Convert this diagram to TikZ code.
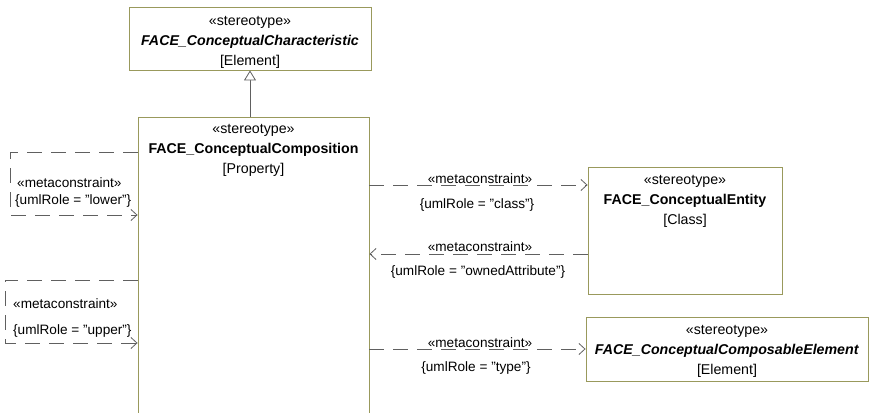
\documentclass[tikz,border=0pt]{standalone}
\usepackage{fontspec}
\setmainfont{Liberation Sans}
\usetikzlibrary{arrows.meta,positioning,calc}
\definecolor{umlolive}{RGB}{153,153,92}
\definecolor{umlgrey}{RGB}{96,96,96}

\begin{document}
\begin{tikzpicture}[x=1pt, y=-1pt,
  umlbox/.style={rectangle, draw=umlolive, fill=white, line width=0.9pt, inner sep=0pt},
  stereo/.style={align=center, inner sep=0pt, anchor=north, font=\fontsize{14.2}{19.8}\selectfont},
  meta/.style={draw=umlgrey, line width=0.8pt, dash pattern=on 15pt off 9pt, -{Straight Barb[length=6pt,width=11pt]}},
  gen/.style={draw=umlgrey, line width=0.8pt, -{Triangle[open, length=10pt, width=12pt, fill=white]}},
  role/.style={inner sep=0pt, font=\fontsize{13.6}{16}\selectfont},
]
  \useasboundingbox (0,0) rectangle (869,412);

  % classes
  \node[umlbox, minimum width=242pt, minimum height=63pt] (charac) at (250,38.5) {};
  \node[stereo] (charactxt) at ([yshift=-10pt]charac.north)
    {«stereotype»\\\textbf{\textit{FACE\_ConceptualCharacteristic}}\\{[Element]}};
  \node[umlbox, minimum width=231pt, minimum height=308pt] (comp) at (253.5,271) {};
  \node[stereo] (comptxt) at ([yshift=-8pt]comp.north)
    {«stereotype»\\\textbf{FACE\_ConceptualComposition}\\{[Property]}};
  \node[umlbox, minimum width=194pt, minimum height=127pt] (entity) at (685,230.5) {};
  \node[stereo] (entitytxt) at ([yshift=-9pt]entity.north)
    {«stereotype»\\\textbf{FACE\_ConceptualEntity}\\{[Class]}};
  \node[umlbox, minimum width=282pt, minimum height=64pt] (compelem) at (727,349) {};
  \node[stereo] (compelemtxt) at ([yshift=-9pt]compelem.north)
    {«stereotype»\\\textbf{\textit{FACE\_ConceptualComposableElement}}\\{[Element]}};

  % generalization
  \draw[gen] (comp.north -| charac.south) -- (charac.south);

  % metaconstraints to the right
  \draw[meta] (comp.east |- 0,185) -- (entity.west |- 0,185);
  \node[role] (classst) at (480,179) {«metaconstraint»};
  \node[role] (classrole) at (477,205) {\{umlRole = "class"\}};

  \draw[meta] (entity.west |- 0,254) -- (comp.east |- 0,254);
  \node[role] (ownst) at (480,247) {«metaconstraint»};
  \node[role] (ownrole) at (478,272) {\{umlRole = "ownedAttribute"\}};

  \draw[meta] (comp.east |- compelem.west) -- (compelem.west);
  \node[role] (typest) at (480,343) {«metaconstraint»};
  \node[role] (typerole) at (476,368) {\{umlRole = "type"\}};

  % self loops on the left
  \draw[meta] (comp.west |- 0,152) -- (10,152) -- (10,215) -- (comp.west |- 0,215);
  \node[role, anchor=west] (lowerst) at (17,183) {«metaconstraint»};
  \node[role, anchor=west] (lowerrole) at (15,201) {\{umlRole = "lower"\}};

  \draw[meta] (comp.west |- 0,280) -- (5,280) -- (5,343) -- (comp.west |- 0,343);
  \node[role, anchor=west] (upperst) at (13,304) {«metaconstraint»};
  \node[role, anchor=west] (upperrole) at (13,331) {\{umlRole = "upper"\}};
\end{tikzpicture}
\end{document}
